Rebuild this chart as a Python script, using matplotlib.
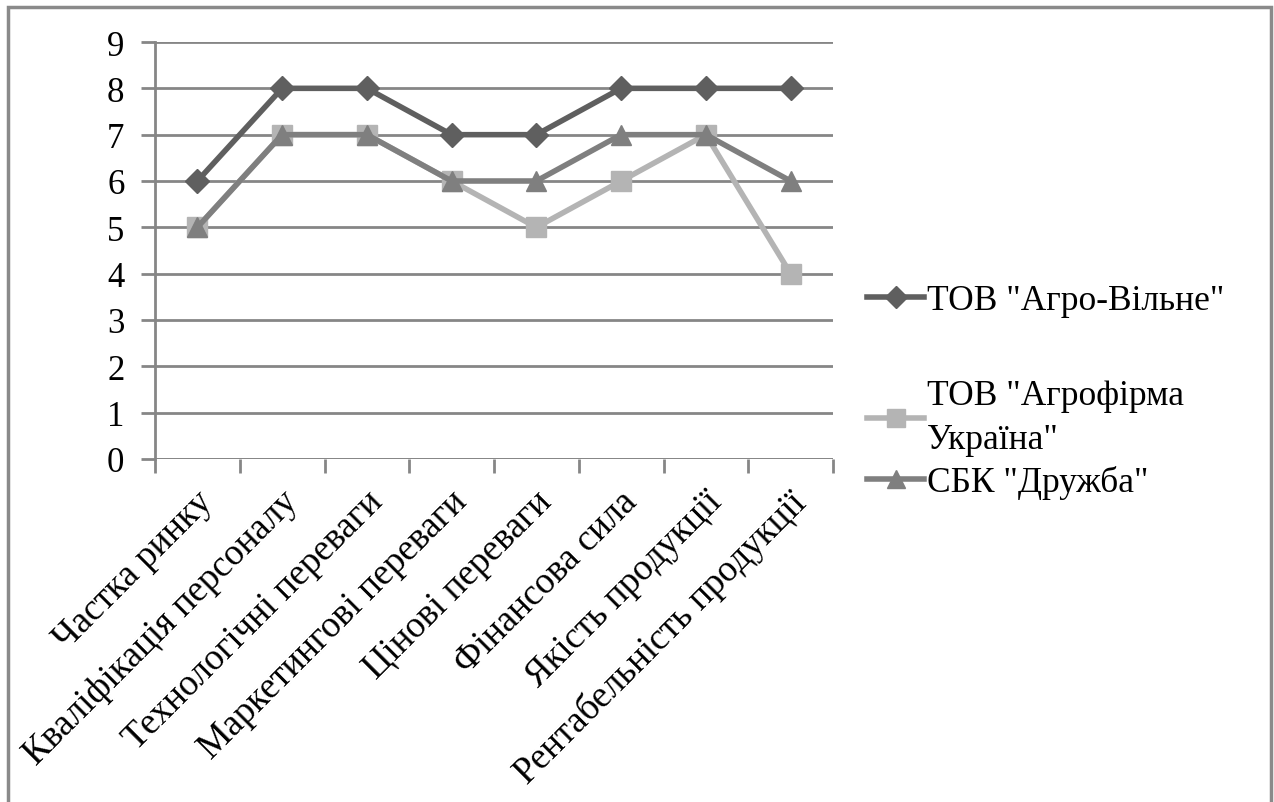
import matplotlib.pyplot as plt
from matplotlib.patches import Rectangle
from matplotlib.transforms import ScaledTranslation
import numpy as np

plt.rcParams["font.family"] = ["Liberation Serif", "DejaVu Serif"]

categories = [
    "Частка ринку",
    "Кваліфікація персоналу",
    "Технологічні переваги",
    "Маркетингові переваги",
    "Цінові переваги",
    "Фінансова сила",
    "Якість продукції",
    "Рентабельність продукції",
]
agro_vilne = [6, 8, 8, 7, 7, 8, 8, 8]
agrofirma_ukraina = [5, 7, 7, 6, 5, 6, 7, 4]
druzhba = [5, 7, 7, 6, 6, 7, 7, 6]
series_names = ['ТОВ "Агро-Вільне"', 'ТОВ "Агрофірма\nУкраїна"', 'СБК "Дружба"']

fig = plt.figure(figsize=(12.74, 8.03), dpi=100)
ax = fig.add_axes([155 / 1274, 1 - 460 / 803, (833 - 155) / 1274, (460 - 43) / 803])

x = np.arange(len(categories))
grid_c = "#868686"
l1, = ax.plot(x, agro_vilne, color="#5f5f5f", lw=4, marker="D", ms=12, label=series_names[0], zorder=3)
l2, = ax.plot(x, agrofirma_ukraina, color="#b4b4b4", lw=4, marker="s", ms=14, label=series_names[1], zorder=3)
l3, = ax.plot(x, druzhba, color="#7f7f7f", lw=4, marker="^", ms=14, label=series_names[2], zorder=4)

ax.set_xlim(-0.5, len(categories) - 0.5)
ax.set_ylim(0, 9)
ax.set_yticks(range(10))
ax.yaxis.grid(True, color=grid_c, lw=2)
ax.set_axisbelow(True)
for side in ["top", "right", "bottom"]:
    ax.spines[side].set_visible(False)
ax.spines["left"].set_color(grid_c)
ax.spines["left"].set_linewidth(2)
ax.axhline(0, color=grid_c, lw=2, zorder=1)

# ticks between categories, labels at category centres
ax.set_xticks(np.arange(len(categories) + 1) - 0.5)
ax.set_xticklabels([])
ax.set_xticks(x, minor=True)
ax.set_xticklabels(categories, minor=True, rotation=45, ha="right", va="top",
                   rotation_mode="anchor", fontsize=26.5)
ax.tick_params(axis="x", which="major", length=10, width=2, color=grid_c)
ax.tick_params(axis="x", which="minor", length=0, pad=18)
ax.tick_params(axis="y", length=10, width=2, color=grid_c, labelsize=25, pad=12)
shift = ScaledTranslation(-0.02, 0, fig.dpi_scale_trans)
for lab in ax.get_xticklabels(minor=True):
    lab.set_transform(lab.get_transform() + shift)

# legend split in two so the entry gaps follow the original layout
leg_kw = dict(frameon=False, fontsize=25.5, handlelength=1.6, handletextpad=0.1,
              borderaxespad=0, markerscale=0.9, bbox_transform=fig.transFigure)
leg1 = ax.legend(handles=[l1], loc="center left", bbox_to_anchor=(853 / 1274, 1 - 302 / 803), **leg_kw)
ax.add_artist(leg1)
leg2 = ax.legend(handles=[l2, l3], loc="center left", bbox_to_anchor=(853 / 1274, 1 - 440 / 803),
                 labelspacing=0.25, **leg_kw)
for t in leg2.get_texts():
    t.set_linespacing(1.45)

fig.patches.append(Rectangle((8 / 1274, -0.01), (1271 - 8) / 1274, 1 - 8 / 803 + 0.01,
                             transform=fig.transFigure, fill=False, edgecolor="#8a8a8a", lw=2.5))

fig.savefig("out.png", dpi=100)
